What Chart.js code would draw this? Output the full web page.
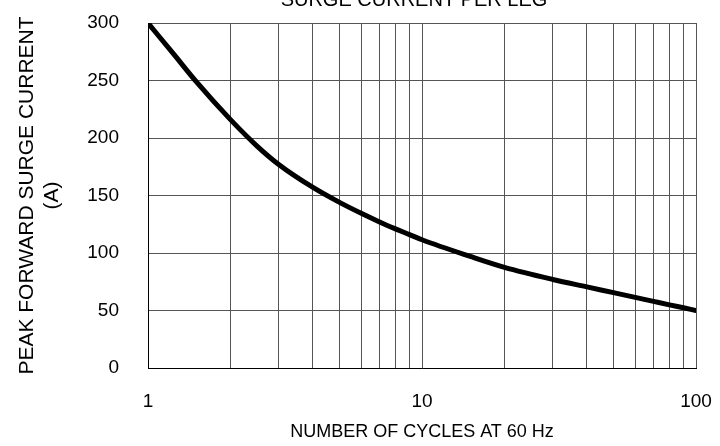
<!DOCTYPE html>
<html>
<head>
    <title>Surge Current Per Leg</title>
    <script src="https://cdn.jsdelivr.net/npm/chart.js"></script>
    <style>
        body {
            margin: 0;
            background: #fff;
        }
        #wrap {
            width: 720px;
            height: 446px;
        }
    </style>
</head>
<body>
    <div id="wrap"><canvas id="surgeChart"></canvas></div>

    <script>
        // values
        const cycles = [1, 1.25, 1.5, 2, 2.5, 3, 4, 5, 6, 7, 8, 9, 10, 15, 20, 30, 40, 50, 60, 70, 80, 90, 100];
        const current = [300, 272, 249, 216, 193, 177, 157, 144, 134.5, 127, 121, 116, 111.5, 97, 87.5, 77, 70.5, 65.5, 61.4, 57.9, 54.9, 52.4, 50];

        const xTicks = [1, 2, 3, 4, 5, 6, 7, 8, 9, 10, 20, 30, 40, 50, 60, 70, 80, 90, 100];
        const xLabels = { 1: '1', 10: '10', 100: '100' };
        const chartTitle = 'SURGE CURRENT PER LEG';

        const fontFamily = 'Arial, "Liberation Sans", sans-serif';
        const font = { family: fontFamily, size: 18 };
        const tickFont = { family: fontFamily, size: 19 };
        const gridColor = '#555';

        // title sits partly above the canvas edge, as in the original
        const topTitle = {
            id: 'topTitle',
            afterDraw(chart) {
                const c = chart.ctx;
                const area = chart.chartArea;
                c.save();
                c.font = '20px ' + fontFamily;
                c.fillStyle = '#000';
                c.textAlign = 'center';
                c.textBaseline = 'alphabetic';
                c.fillText(chartTitle, (area.left + area.right) / 2 - 8, 6);
                c.restore();
            }
        };

        const ctx = document.getElementById('surgeChart').getContext('2d');
        new Chart(ctx, {
            type: 'line',
            data: {
                datasets: [{
                    data: cycles.map((c, i) => ({ x: c, y: current[i] })),
                    borderColor: '#000',
                    borderWidth: 5,
                    borderCapStyle: 'round',
                    pointRadius: 0,
                    cubicInterpolationMode: 'monotone',
                    fill: false
                }]
            },
            plugins: [topTitle],
            options: {
                responsive: true,
                maintainAspectRatio: false,
                animation: false,
                layout: { padding: { top: 23, right: 24, bottom: 0, left: 0 } },
                plugins: {
                    legend: { display: false },
                    tooltip: { enabled: false },
                    title: { display: false }
                },
                scales: {
                    x: {
                        type: 'logarithmic',
                        min: 1,
                        max: 100,
                        afterBuildTicks: (scale) => {
                            scale.ticks = xTicks.map(v => ({ value: v }));
                        },
                        afterFit: (scale) => { scale.height = 78; },
                        // invisible tick marks push the labels away from the axis
                        grid: { color: gridColor, drawTicks: true, tickLength: 22, tickColor: 'rgba(0,0,0,0)' },
                        border: { color: '#000', width: 1 },
                        ticks: {
                            color: '#000',
                            font: tickFont,
                            padding: 0,
                            autoSkip: false,
                            maxRotation: 0,
                            callback: (v) => xLabels[v] || ''
                        },
                        title: {
                            display: true,
                            text: 'NUMBER OF CYCLES AT 60 Hz',
                            color: '#000',
                            font: font,
                            padding: { top: 0, bottom: 3 }
                        }
                    },
                    y: {
                        min: 0,
                        max: 300,
                        afterFit: (scale) => { scale.width = 148; },
                        grid: { color: gridColor, drawTicks: true, tickLength: 29, tickColor: 'rgba(0,0,0,0)' },
                        border: { color: '#000', width: 1 },
                        ticks: {
                            stepSize: 50,
                            color: '#000',
                            font: tickFont,
                            padding: 0
                        },
                        title: {
                            display: true,
                            text: ['PEAK FORWARD SURGE CURRENT', '(A)'],
                            color: '#000',
                            font: { family: fontFamily, size: 21, lineHeight: 1.21 },
                            padding: { top: 14, bottom: 0 }
                        }
                    }
                }
            }
        });
    </script>
</body>
</html>
